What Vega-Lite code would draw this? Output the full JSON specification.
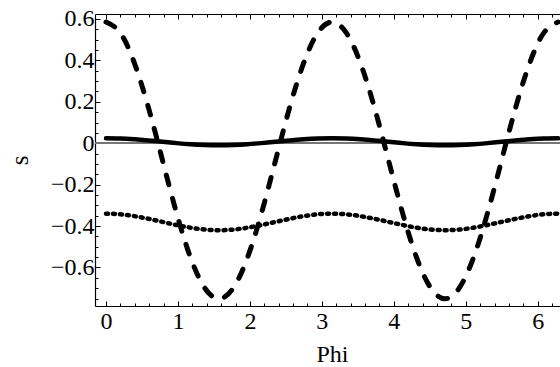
{
  "$schema": "https://vega.github.io/schema/vega-lite/v6.json",
  "width": 465,
  "height": 292,
  "autosize": "none",
  "padding": {"left": 95, "top": 14, "right": 0, "bottom": 61},
  "background": "white",
  "config": {
    "view": {"stroke": null},
    "axis": {"labelFont": "Liberation Serif", "titleFont": "Liberation Serif", "labelColor": "black", "titleColor": "black", "domainColor": "black", "tickColor": "black", "grid": false, "titleFontWeight": "normal"}
  },
  "datasets": {
    "curves": [
      {"phi": 0, "A": 0.585, "B": 0.024, "C": -0.34},
      {"phi": 0.1963, "A": 0.534, "B": 0.0227, "C": -0.343},
      {"phi": 0.3927, "A": 0.389, "B": 0.0189, "C": -0.352},
      {"phi": 0.589, "A": 0.173, "B": 0.0134, "C": -0.365},
      {"phi": 0.7854, "A": -0.083, "B": 0.007, "C": -0.38},
      {"phi": 0.9817, "A": -0.339, "B": 0.0005, "C": -0.395},
      {"phi": 1.1781, "A": -0.555, "B": -0.0051, "C": -0.408},
      {"phi": 1.3744, "A": -0.7, "B": -0.0088, "C": -0.417},
      {"phi": 1.5708, "A": -0.751, "B": -0.01, "C": -0.42},
      {"phi": 1.7671, "A": -0.7, "B": -0.0088, "C": -0.417},
      {"phi": 1.9635, "A": -0.555, "B": -0.0051, "C": -0.408},
      {"phi": 2.1598, "A": -0.339, "B": 0.0005, "C": -0.395},
      {"phi": 2.3562, "A": -0.083, "B": 0.007, "C": -0.38},
      {"phi": 2.5525, "A": 0.173, "B": 0.0134, "C": -0.365},
      {"phi": 2.7489, "A": 0.389, "B": 0.0189, "C": -0.352},
      {"phi": 2.9452, "A": 0.534, "B": 0.0227, "C": -0.343},
      {"phi": 3.1416, "A": 0.585, "B": 0.024, "C": -0.34},
      {"phi": 3.3379, "A": 0.534, "B": 0.0227, "C": -0.343},
      {"phi": 3.5343, "A": 0.389, "B": 0.0189, "C": -0.352},
      {"phi": 3.7306, "A": 0.173, "B": 0.0134, "C": -0.365},
      {"phi": 3.927, "A": -0.083, "B": 0.007, "C": -0.38},
      {"phi": 4.1233, "A": -0.339, "B": 0.0005, "C": -0.395},
      {"phi": 4.3197, "A": -0.555, "B": -0.0051, "C": -0.408},
      {"phi": 4.516, "A": -0.7, "B": -0.0088, "C": -0.417},
      {"phi": 4.7124, "A": -0.751, "B": -0.01, "C": -0.42},
      {"phi": 4.9087, "A": -0.7, "B": -0.0088, "C": -0.417},
      {"phi": 5.1051, "A": -0.555, "B": -0.0051, "C": -0.408},
      {"phi": 5.3014, "A": -0.339, "B": 0.0005, "C": -0.395},
      {"phi": 5.4978, "A": -0.083, "B": 0.007, "C": -0.38},
      {"phi": 5.6941, "A": 0.173, "B": 0.0134, "C": -0.365},
      {"phi": 5.8905, "A": 0.389, "B": 0.0189, "C": -0.352},
      {"phi": 6.0868, "A": 0.534, "B": 0.0227, "C": -0.343},
      {"phi": 6.2832, "A": 0.585, "B": 0.024, "C": -0.34}
    ]
  },
  "data": {"name": "curves"},
  "resolve": {"axis": {"x": "independent", "y": "independent"}},
  "layer": [
    {
      "mark": {"type": "rule", "color": "#777777", "strokeWidth": 1},
      "encoding": {"y": {"datum": 0, "type": "quantitative", "axis": null, "scale": {"domain": [-0.786, 0.624], "nice": false, "zero": false}}}
    },
    {
      "mark": {"type": "line", "color": "black", "strokeWidth": 5, "strokeDash": [10, 14], "strokeCap": "round", "interpolate": "natural", "clip": true},
      "encoding": {
        "x": {"field": "phi", "type": "quantitative", "scale": {"domain": [-0.153, 6.31], "nice": false, "zero": false},
          "axis": {"orient": "bottom", "title": "Phi", "titleFontSize": 24, "titleX": 237, "titleY": 55, "titleBaseline": "alphabetic", "titleAnchor": "middle",
            "values": [0,0.2,0.4,0.6,0.8,1,1.2,1.4,1.6,1.8,2,2.2,2.4,2.6,2.8,3,3.2,3.4,3.6,3.8,4,4.2,4.4,4.6,4.8,5,5.2,5.4,5.6,5.8,6,6.2],
            "tickSize": {"condition": {"test": "abs(datum.value - round(datum.value)) < 0.001", "value": -5}, "value": -3},
            "labelExpr": "abs(datum.value - round(datum.value)) < 0.001 ? datum.label : ''",
            "format": "~g", "labelFontSize": 24, "labelPadding": 8, "labelFlush": false, "labelOverlap": false, "domainWidth": 1.2}},
        "y": {"field": "A", "type": "quantitative", "scale": {"domain": [-0.786, 0.624], "nice": false, "zero": false},
          "axis": {"orient": "left", "title": "s", "titleFontSize": 25, "titleX": -76, "titleY": 146, "titleAngle": -90, "titleBaseline": "middle", "titleAlign": "center",
            "values": [-0.75,-0.7,-0.65,-0.6,-0.55,-0.5,-0.45,-0.4,-0.35,-0.3,-0.25,-0.2,-0.15,-0.1,-0.05,0,0.05,0.1,0.15,0.2,0.25,0.3,0.35,0.4,0.45,0.5,0.55,0.6],
            "tickSize": {"condition": {"test": "abs(datum.value*5 - round(datum.value*5)) < 0.001", "value": -5}, "value": -3},
            "labelExpr": "abs(datum.value*5 - round(datum.value*5)) < 0.001 ? datum.label : ''",
            "format": "~g", "labelFontSize": 24, "labelPadding": 6, "labelFlush": false, "labelOverlap": false, "domainWidth": 1.2}}
      }
    },
    {
      "mark": {"type": "line", "color": "black", "strokeWidth": 4.5, "strokeCap": "round", "interpolate": "natural", "clip": true},
      "encoding": {
        "x": {"field": "phi", "type": "quantitative",
          "axis": {"orient": "top", "title": null, "labels": false,
            "values": [0,0.2,0.4,0.6,0.8,1,1.2,1.4,1.6,1.8,2,2.2,2.4,2.6,2.8,3,3.2,3.4,3.6,3.8,4,4.2,4.4,4.6,4.8,5,5.2,5.4,5.6,5.8,6,6.2],
            "tickSize": {"condition": {"test": "abs(datum.value - round(datum.value)) < 0.001", "value": -5}, "value": -3},
            "domainWidth": 1.2}},
        "y": {"field": "B", "type": "quantitative", "axis": null}
      }
    },
    {
      "mark": {"type": "line", "color": "black", "strokeWidth": 4.5, "strokeDash": [2, 5], "strokeCap": "round", "interpolate": "natural", "clip": true},
      "encoding": {
        "x": {"field": "phi", "type": "quantitative", "axis": null},
        "y": {"field": "C", "type": "quantitative", "axis": null}
      }
    }
  ]
}
